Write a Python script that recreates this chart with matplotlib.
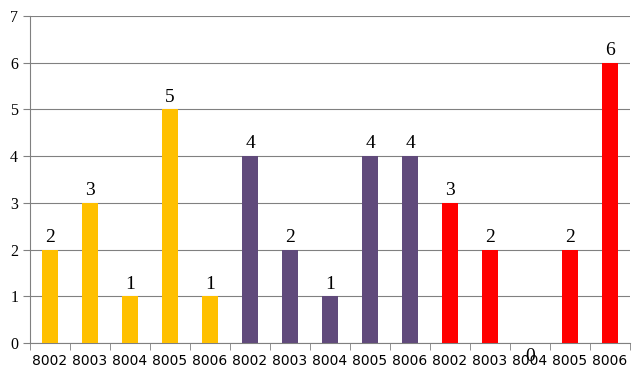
import matplotlib
matplotlib.use("Agg")
import matplotlib.pyplot as plt
import numpy as np

labels = ["8002", "8003", "8004", "8005", "8006"] * 3
values = [2, 3, 1, 5, 1, 4, 2, 1, 4, 4, 3, 2, 0, 2, 6]
colors = ["#FFC000"] * 5 + ["#604A7B"] * 5 + ["#FF0000"] * 5

W, H = 643, 377
fig = plt.figure(figsize=(W / 100, H / 100), dpi=100)
ax = fig.add_axes([30 / W, 34 / H, 600 / W, 327 / H])

x = np.arange(len(values))
ax.bar(x, values, width=0.4, color=colors, zorder=3)
ax.set_xlim(-0.5, len(values) - 0.5)
ax.set_ylim(0, 7)
ax.set_yticks(range(8))
ax.yaxis.grid(True, color="#808080", linewidth=0.8, zorder=0)

for xi, v in zip(x, values):
    if v == 0:
        ax.text(xi, -0.28, str(v), ha="center", va="center",
                family="Liberation Serif", fontsize=14, clip_on=False, zorder=5)
    else:
        ax.text(xi, v + 0.08, str(v), ha="center", va="bottom",
                family="Liberation Serif", fontsize=14)

ax.set_xticks(x)
ax.set_xticklabels(labels, family="DejaVu Sans", fontsize=10)
ax.set_xticks(np.arange(-0.5, len(values), 1), minor=True)
ax.tick_params(axis="x", which="major", length=0, pad=8)
ax.tick_params(axis="x", which="minor", length=5, color="#808080")
ax.tick_params(axis="y", length=5, color="#808080", labelsize=11.5)
for lab in ax.get_yticklabels():
    lab.set_family("Liberation Serif")

for s in ["top", "right"]:
    ax.spines[s].set_visible(False)
for s in ["left", "bottom"]:
    ax.spines[s].set_color("#808080")

fig.savefig("out.png", dpi=100)
